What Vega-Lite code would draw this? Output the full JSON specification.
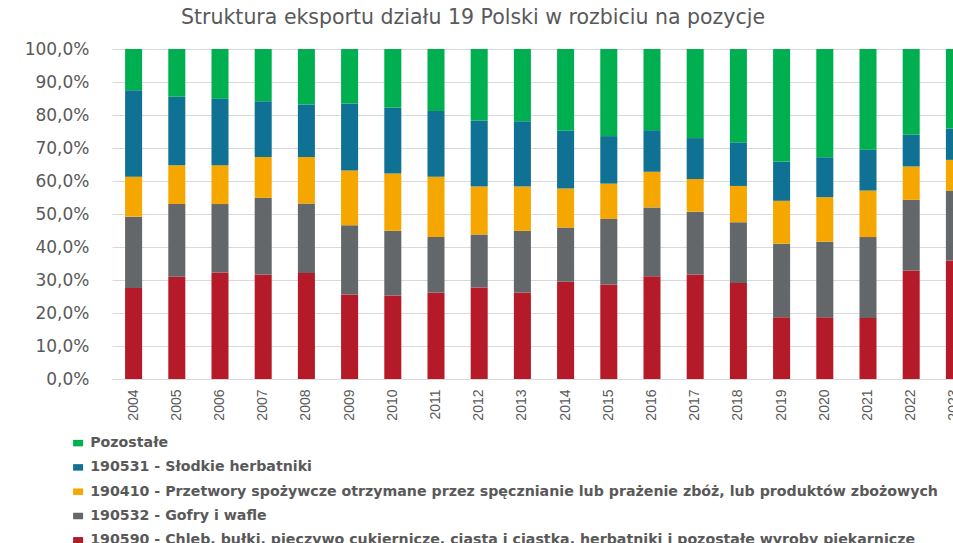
{
  "$schema": "https://vega.github.io/schema/vega-lite/v6.json",
  "autosize": {"type": "none"},
  "padding": {"left": 112, "top": 49, "right": 0, "bottom": 164},
  "width": 841,
  "height": 330,
  "background": "white",
  "title": {
    "text": "Struktura eksportu działu 19 Polski w rozbiciu na pozycje",
    "font": "DejaVu Sans",
    "fontSize": 20.5,
    "fontWeight": "normal",
    "color": "#595959",
    "anchor": "start",
    "frame": "group",
    "dx": 69,
    "offset": 12
  },
  "datasets": {
    "cats": [
      {"k": "G", "name": "Pozostałe", "ord": 5},
      {"k": "B", "name": "190531 - Słodkie herbatniki", "ord": 4},
      {"k": "O", "name": "190410 - Przetwory spożywcze otrzymane przez spęcznianie lub prażenie zbóż, lub produktów zbożowych", "ord": 3},
      {"k": "D", "name": "190532 - Gofry i wafle", "ord": 2},
      {"k": "R", "name": "190590 - Chleb, bułki, pieczywo cukiernicze, ciasta i ciastka, herbatniki i pozostałe wyroby piekarnicze", "ord": 1}
    ]
  },
  "data": {
    "values": [
      {"year": "2004", "k": "R", "v": 27.6}, {"year": "2004", "k": "D", "v": 21.6}, {"year": "2004", "k": "O", "v": 12.1}, {"year": "2004", "k": "B", "v": 26.2}, {"year": "2004", "k": "G", "v": 12.5},
      {"year": "2005", "k": "R", "v": 31.0}, {"year": "2005", "k": "D", "v": 22.0}, {"year": "2005", "k": "O", "v": 11.8}, {"year": "2005", "k": "B", "v": 20.7}, {"year": "2005", "k": "G", "v": 14.5},
      {"year": "2006", "k": "R", "v": 32.3}, {"year": "2006", "k": "D", "v": 20.7}, {"year": "2006", "k": "O", "v": 11.8}, {"year": "2006", "k": "B", "v": 20.1}, {"year": "2006", "k": "G", "v": 15.1},
      {"year": "2007", "k": "R", "v": 31.7}, {"year": "2007", "k": "D", "v": 23.2}, {"year": "2007", "k": "O", "v": 12.4}, {"year": "2007", "k": "B", "v": 16.9}, {"year": "2007", "k": "G", "v": 15.8},
      {"year": "2008", "k": "R", "v": 32.1}, {"year": "2008", "k": "D", "v": 21.1}, {"year": "2008", "k": "O", "v": 14.1}, {"year": "2008", "k": "B", "v": 15.9}, {"year": "2008", "k": "G", "v": 16.8},
      {"year": "2009", "k": "R", "v": 25.6}, {"year": "2009", "k": "D", "v": 21.0}, {"year": "2009", "k": "O", "v": 16.6}, {"year": "2009", "k": "B", "v": 20.3}, {"year": "2009", "k": "G", "v": 16.5},
      {"year": "2010", "k": "R", "v": 25.3}, {"year": "2010", "k": "D", "v": 19.6}, {"year": "2010", "k": "O", "v": 17.4}, {"year": "2010", "k": "B", "v": 20.0}, {"year": "2010", "k": "G", "v": 17.7},
      {"year": "2011", "k": "R", "v": 26.2}, {"year": "2011", "k": "D", "v": 16.8}, {"year": "2011", "k": "O", "v": 18.3}, {"year": "2011", "k": "B", "v": 19.9}, {"year": "2011", "k": "G", "v": 18.8},
      {"year": "2012", "k": "R", "v": 27.7}, {"year": "2012", "k": "D", "v": 16.1}, {"year": "2012", "k": "O", "v": 14.5}, {"year": "2012", "k": "B", "v": 20.0}, {"year": "2012", "k": "G", "v": 21.7},
      {"year": "2013", "k": "R", "v": 26.2}, {"year": "2013", "k": "D", "v": 18.7}, {"year": "2013", "k": "O", "v": 13.4}, {"year": "2013", "k": "B", "v": 19.8}, {"year": "2013", "k": "G", "v": 21.9},
      {"year": "2014", "k": "R", "v": 29.5}, {"year": "2014", "k": "D", "v": 16.4}, {"year": "2014", "k": "O", "v": 11.8}, {"year": "2014", "k": "B", "v": 17.5}, {"year": "2014", "k": "G", "v": 24.8},
      {"year": "2015", "k": "R", "v": 28.6}, {"year": "2015", "k": "D", "v": 19.9}, {"year": "2015", "k": "O", "v": 10.7}, {"year": "2015", "k": "B", "v": 14.4}, {"year": "2015", "k": "G", "v": 26.4},
      {"year": "2016", "k": "R", "v": 31.1}, {"year": "2016", "k": "D", "v": 20.9}, {"year": "2016", "k": "O", "v": 10.8}, {"year": "2016", "k": "B", "v": 12.6}, {"year": "2016", "k": "G", "v": 24.6},
      {"year": "2017", "k": "R", "v": 31.7}, {"year": "2017", "k": "D", "v": 19.0}, {"year": "2017", "k": "O", "v": 9.9}, {"year": "2017", "k": "B", "v": 12.4}, {"year": "2017", "k": "G", "v": 27.0},
      {"year": "2018", "k": "R", "v": 29.1}, {"year": "2018", "k": "D", "v": 18.4}, {"year": "2018", "k": "O", "v": 11.0}, {"year": "2018", "k": "B", "v": 13.2}, {"year": "2018", "k": "G", "v": 28.3},
      {"year": "2019", "k": "R", "v": 18.7}, {"year": "2019", "k": "D", "v": 22.3}, {"year": "2019", "k": "O", "v": 13.0}, {"year": "2019", "k": "B", "v": 11.8}, {"year": "2019", "k": "G", "v": 34.2},
      {"year": "2020", "k": "R", "v": 18.7}, {"year": "2020", "k": "D", "v": 22.9}, {"year": "2020", "k": "O", "v": 13.5}, {"year": "2020", "k": "B", "v": 12.1}, {"year": "2020", "k": "G", "v": 32.8},
      {"year": "2021", "k": "R", "v": 18.5}, {"year": "2021", "k": "D", "v": 24.5}, {"year": "2021", "k": "O", "v": 14.1}, {"year": "2021", "k": "B", "v": 12.4}, {"year": "2021", "k": "G", "v": 30.5},
      {"year": "2022", "k": "R", "v": 32.9}, {"year": "2022", "k": "D", "v": 21.4}, {"year": "2022", "k": "O", "v": 10.1}, {"year": "2022", "k": "B", "v": 9.6}, {"year": "2022", "k": "G", "v": 26.0},
      {"year": "2023", "k": "R", "v": 35.9}, {"year": "2023", "k": "D", "v": 21.2}, {"year": "2023", "k": "O", "v": 9.3}, {"year": "2023", "k": "B", "v": 9.5}, {"year": "2023", "k": "G", "v": 24.1}
    ]
  },
  "transform": [
    {"lookup": "k", "from": {"data": {"name": "cats"}, "key": "k", "fields": ["name", "ord"]}}
  ],
  "mark": {"type": "bar", "clip": true},
  "encoding": {
    "x": {
      "field": "year",
      "type": "ordinal",
      "scale": {"range": [0, 864], "paddingInner": 0.606, "paddingOuter": 0.303},
      "axis": {
        "title": null,
        "labelAngle": -90,
        "labelFont": "Liberation Sans",
        "labelFontSize": 14,
        "labelColor": "#595959",
        "labelPadding": 10,
        "ticks": false,
        "domain": false,
        "grid": false
      }
    },
    "y": {
      "field": "v",
      "type": "quantitative",
      "stack": "normalize",
      "scale": {"domain": [0, 1]},
      "axis": {
        "title": null,
        "values": [0, 0.1, 0.2, 0.3, 0.4, 0.5, 0.6, 0.7, 0.8, 0.9, 1],
        "labelExpr": "replace(format(datum.value, '.1%'), '.', ',')",
        "labelFont": "DejaVu Sans",
        "labelFontSize": 17,
        "labelColor": "#595959",
        "labelPadding": 23,
        "ticks": false,
        "domain": false,
        "grid": true,
        "gridColor": "#D9D9D9",
        "gridWidth": 1
      }
    },
    "color": {
      "field": "name",
      "type": "nominal",
      "scale": {
        "domain": [
          "Pozostałe",
          "190531 - Słodkie herbatniki",
          "190410 - Przetwory spożywcze otrzymane przez spęcznianie lub prażenie zbóż, lub produktów zbożowych",
          "190532 - Gofry i wafle",
          "190590 - Chleb, bułki, pieczywo cukiernicze, ciasta i ciastka, herbatniki i pozostałe wyroby piekarnicze"
        ],
        "range": ["#00AF50", "#0F7193", "#F5A700", "#636769", "#B51A29"]
      },
      "legend": {
        "title": null,
        "orient": "none",
        "legendX": -41,
        "legendY": 387,
        "padding": 0,
        "labelFont": "DejaVu Sans",
        "labelFontWeight": "bold",
        "labelFontSize": 14.2,
        "labelColor": "#595959",
        "labelLimit": 2000,
        "labelOffset": 5,
        "symbolType": "M-1,-0.65H1V0.65H-1Z",
        "symbolSize": 100,
        "symbolStrokeWidth": 0,
        "rowPadding": 9.3
      }
    },
    "order": {"field": "ord", "type": "quantitative", "sort": "ascending"}
  },
  "config": {
    "view": {"stroke": null}
  }
}
